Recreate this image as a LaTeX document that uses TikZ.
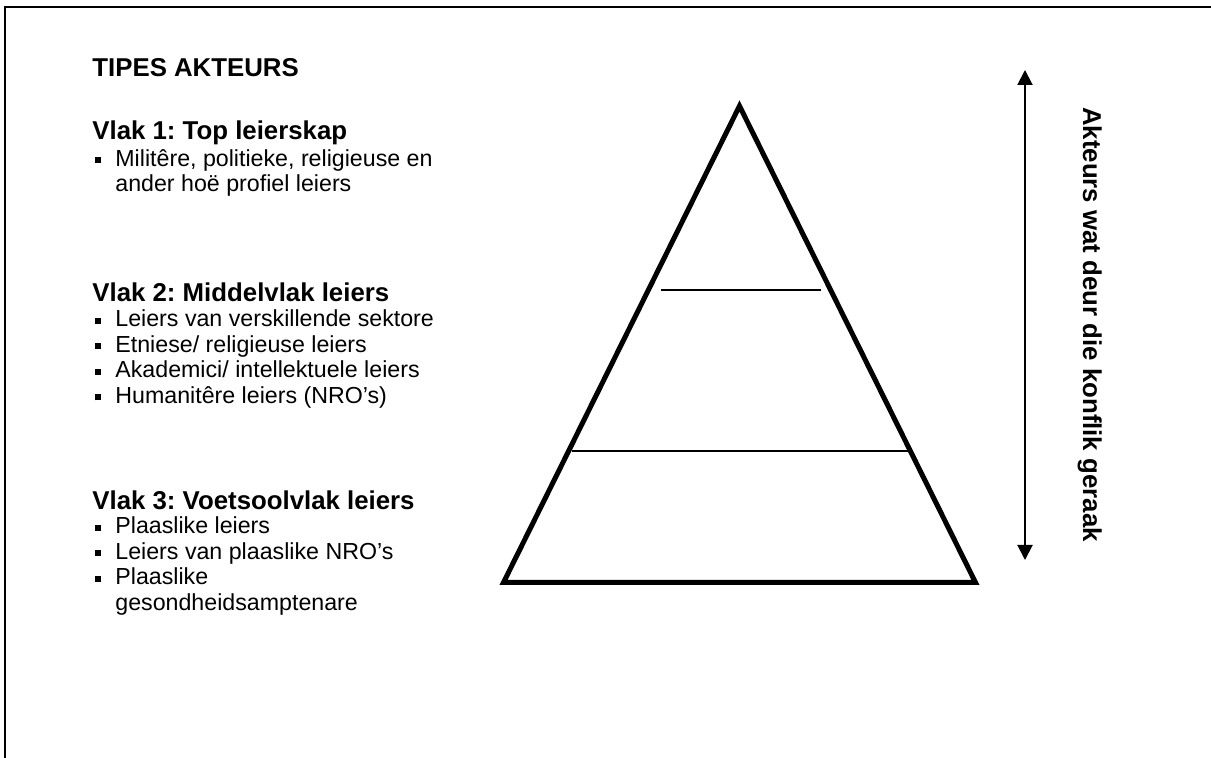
\documentclass[tikz,border=0pt]{standalone}
\usepackage{fontspec}
\setmainfont{Liberation Sans}
\usetikzlibrary{arrows.meta}
\newcommand{\blt}{\rule[1.5pt]{3pt}{3pt}\hspace{7pt}}
\frenchspacing
\begin{document}
\begin{tikzpicture}[x=0.5pt,y=-0.5pt,
  head/.style={anchor=base west,inner sep=0pt,font=\fontsize{12.9}{15}\selectfont\bfseries},
  item/.style={anchor=base west,inner sep=0pt,font=\fontsize{11.6}{14}\selectfont},
  level/.style={line width=1pt}]
\useasboundingbox (0,0) rectangle (1211,758);
\draw[line width=1pt] (1211,7)--(5,7)--(5,758);
% left column
\node[head] (title) at (92,77) {TIPES AKTEURS};
\node[head] (v1) at (92,140) {Vlak 1: Top leierskap};
\node[item] (v1a) at (95,166.5) {\blt Militêre, politieke, religieuse en};
\node[item] (v1b) at (115,192) {ander hoë profiel leiers};
\node[head] (v2) at (92,302) {Vlak 2: Middelvlak leiers};
\node[item] (v2a) at (95,327) {\blt Leiers van verskillende sektore};
\node[item] (v2b) at (95,352.5) {\blt Etniese/ religieuse leiers};
\node[item] (v2c) at (95,378) {\blt Akademici/ intellektuele leiers};
\node[item] (v2d) at (95,403.5) {\blt Humanitêre leiers (NRO’s)};
\node[head] (v3) at (92,510) {Vlak 3: Voetsoolvlak leiers};
\node[item] (v3a) at (95,534) {\blt Plaaslike leiers};
\node[item] (v3b) at (95,559.5) {\blt Leiers van plaaslike NRO’s};
\node[item] (v3c) at (95,585) {\blt Plaaslike};
\node[item] (v3d) at (115,610.5) {gesondheidsamptenare};
% pyramid
\coordinate (apex) at (739.5,106);
\coordinate (bl) at (503.5,582.5);
\coordinate (br) at (975.5,582.5);
\draw[line width=2.5pt] (apex)--(bl)--(br)--cycle;
\draw[level] (661,290)--(821,290);
\draw[level] (572,451)--(908,451);
% arrow
\coordinate (atop) at (1025,70);
\coordinate (abot) at (1025,560);
\draw[line width=1pt,{Triangle[length=7.5pt,width=7.5pt]}-{Triangle[length=7.5pt,width=7.5pt]}] (atop)--(abot);
\node[anchor=base,inner sep=0pt,rotate=-90,font=\fontsize{12.9}{15}\selectfont\bfseries] (side) at (1083,324.5) {Akteurs wat deur die konflik geraak};
\end{tikzpicture}
\end{document}
